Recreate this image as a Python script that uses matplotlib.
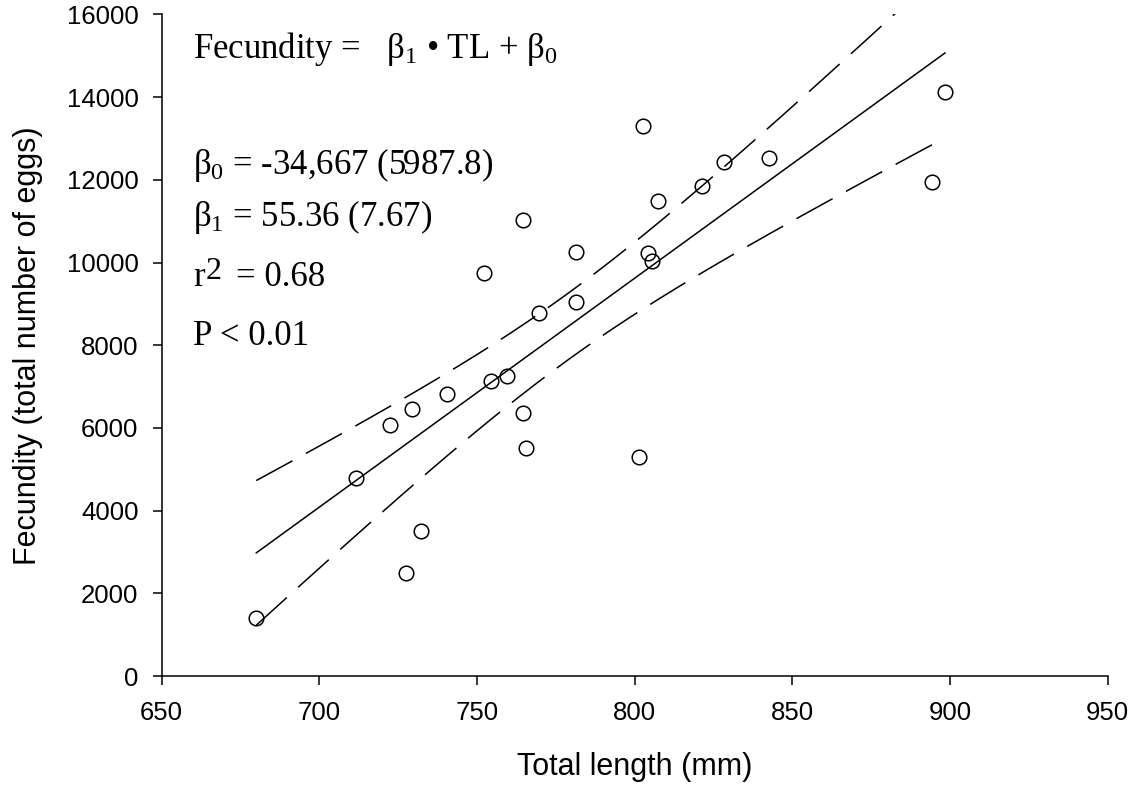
"""
Fecundity vs total length with regression line and 95% confidence band.
"""

import numpy as np
import matplotlib.pyplot as plt
from matplotlib import rcParams

# data
length = np.array([680.0, 711.5, 722.5, 729.5, 740.5, 727.5, 732.3, 752.3, 754.5,
                   759.4, 764.5, 765.5, 769.5, 781.5, 781.5, 764.5, 802.5, 807.4,
                   804.3, 805.5, 821.5, 828.4, 842.5, 898.4, 894.3, 801.4])
fecundity = np.array([1410, 4780, 6070, 6450, 6820, 2480, 3510, 9740, 7140,
                      7250, 6370, 5510, 8790, 9040, 10260, 11040, 13290, 11490,
                      10220, 10030, 11850, 12430, 12520, 14130, 11950, 5290])

b0 = -34667.
b1 = 55.36
t_crit = 2.064   # t(0.975, df=24)

x_ticks = [650, 700, 750, 800, 850, 900, 950]
y_ticks = [0, 2000, 4000, 6000, 8000, 10000, 12000, 14000, 16000]


if __name__ == "__main__":

    rcParams['font.family'] = ['Liberation Sans', 'DejaVu Sans']
    rcParams['mathtext.fontset'] = 'custom'
    rcParams['mathtext.rm'] = 'Liberation Serif'
    rcParams['mathtext.it'] = 'Liberation Serif'
    rcParams['mathtext.bf'] = 'Liberation Serif'

    fig = plt.figure(figsize=(11.44, 7.93), dpi=100)
    ax = fig.add_axes([0.1413, 0.1475, 0.9683 - 0.1413, 0.9818 - 0.1475])

    # regression line and confidence band
    xf = np.linspace(length.min(), length.max(), 300)
    yf = b0 + b1 * xf
    resid = fecundity - (b0 + b1 * length)
    n = len(length)
    s = np.sqrt(np.sum(resid**2) / (n - 2))
    sxx = np.sum((length - length.mean())**2)
    half = t_crit * s * np.sqrt(1. / n + (xf - length.mean())**2 / sxx)

    ax.plot(xf, yf, color='k', lw=1.1)
    ax.plot(xf, yf + half, color='k', lw=1.1, dashes=(27, 10))
    ax.plot(xf, yf - half, color='k', lw=1.1, dashes=(27, 10))

    ax.plot(length, fecundity, 'o', mfc='none', mec='k', ms=10.5, mew=1.1)

    ax.set_xlim([650, 950])
    ax.set_ylim([0, 16000])
    ax.set_xticks(x_ticks)
    ax.set_yticks(y_ticks)
    ax.spines['top'].set_visible(False)
    ax.spines['right'].set_visible(False)
    for sp in ['left', 'bottom']:
        ax.spines[sp].set_linewidth(1.1)
    ax.tick_params(direction='out', length=6.7, width=1.1, labelsize=18.5)
    ax.tick_params(axis='y', pad=10)
    ax.tick_params(axis='x', pad=11)

    ax.set_xlabel('Total length (mm)', fontsize=22, labelpad=20)
    ax.set_ylabel('Fecundity (total number of eggs)', fontsize=22, labelpad=17)

    # annotation text
    tkw = dict(fontsize=25, family='Liberation Serif', va='baseline', ha='left')
    x0 = 659.9
    ax.text(x0, 14950, r'Fecundity =   $\mathrm{\beta}_1$ • TL + $\mathrm{\beta}_0$', **tkw)
    ax.text(x0, 12150, r'$\mathrm{\beta}_0$ = -34,667 (5987.8)', **tkw)
    ax.text(x0, 10880, r'$\mathrm{\beta}_1$ = 55.36 (7.67)', **tkw)
    ax.text(x0, 9430, 'r', **tkw)
    ax.annotate('2', (x0, 9430), xytext=(9, 5), textcoords='offset points',
                fontsize=23, family='Liberation Serif', va='baseline', ha='left')
    ax.annotate('= 0.68', (x0, 9430), xytext=(31, 0), textcoords='offset points',
                **tkw)
    ax.text(x0, 8000, 'P < 0.01', **tkw)

    plt.savefig('out.png', dpi=100)
    plt.close()
